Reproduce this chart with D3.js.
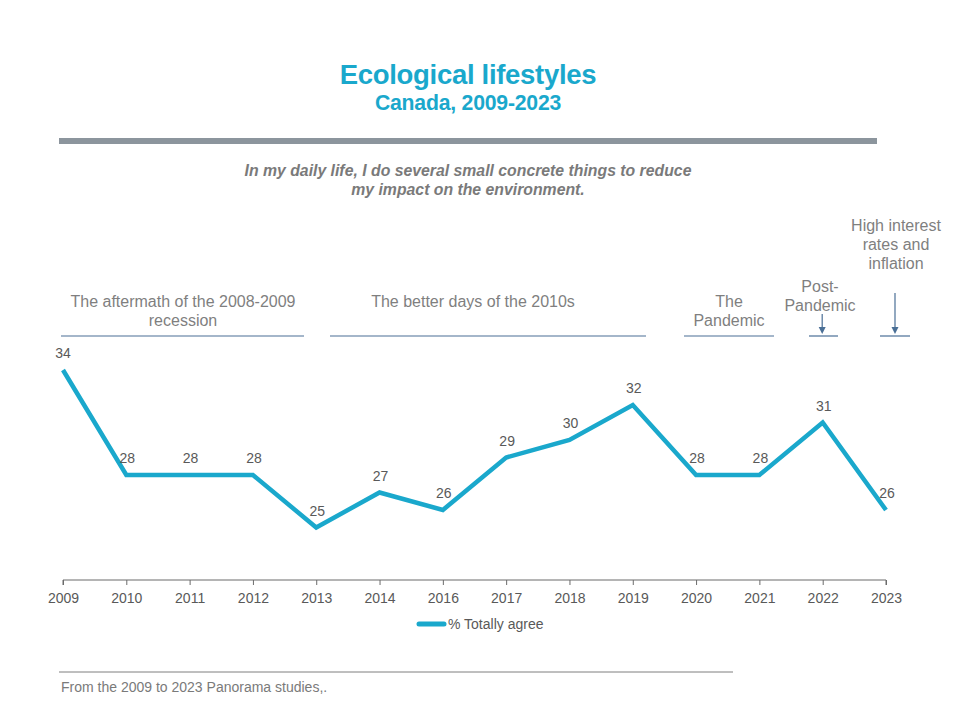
<!DOCTYPE html>
<html><head><meta charset="utf-8">
<script src="https://cdn.jsdelivr.net/npm/d3@7"></script>
<style>body{margin:0;background:#fff}svg{display:block}</style>
</head><body>
<svg id="c" width="960" height="720"></svg>
<script>
const years = ["2009","2010","2011","2012","2013","2014","2016","2017","2018","2019","2020","2021","2022","2023"];
const totallyAgree = [34,28,28,28,25,27,26,29,30,32,28,28,31,26];
const seriesName = "% Totally agree";
const periods = [
  {lines:["The aftermath of the 2008-2009","recession"], arrow:false},
  {lines:["The better days of the 2010s"], arrow:false},
  {lines:["The","Pandemic"], arrow:false},
  {lines:["Post-","Pandemic"], arrow:true, year:"2022"},
  {lines:["High interest","rates and","inflation"], arrow:true, year:"2023"}
];

const svg = d3.select("#c");
const font = "'Liberation Sans',Arial,sans-serif";
const blue = "#1AA8CC";
const gray = "#7F7F7F";

// titles
svg.append("text").attr("x",468).attr("y",84).attr("text-anchor","middle")
  .attr("font-family",font).attr("font-weight","bold").attr("font-size",27.5)
  .attr("fill",blue).attr("letter-spacing",-0.3).text("Ecological lifestyles");
svg.append("text").attr("x",468).attr("y",110).attr("text-anchor","middle")
  .attr("font-family",font).attr("font-weight","bold").attr("font-size",21.2)
  .attr("fill",blue).attr("letter-spacing",-0.2).text("Canada, 2009-2023");
svg.append("rect").attr("x",59).attr("y",138).attr("width",818).attr("height",6).attr("fill","#8C959D");

const q = ["In my daily life, I do several small concrete things to reduce","my impact on the environment."];
q.forEach((t,i)=>svg.append("text").attr("x",468).attr("y",175.5+i*19).attr("text-anchor","middle")
  .attr("font-family",font).attr("font-style","italic").attr("font-weight","bold").attr("font-size",15.8)
  .attr("fill","#7a7a7a").text(t));

// scales
const x = d3.scalePoint().domain(years).range([63,886]);
const y = d3.scaleLinear().domain([22,40]).range([580,265]);

// axis
const ax = svg.append("g").attr("transform","translate(0,580)")
  .call(d3.axisBottom(x).tickSize(5).tickPadding(8));
ax.select(".domain").attr("stroke","#6b6b6b").attr("d","M63,5V0H886V5");
ax.selectAll(".tick line").attr("stroke","#6b6b6b");
ax.selectAll(".tick text").attr("font-family",font).attr("font-size",14).attr("fill","#595959");

// line
const line = d3.line().x((d,i)=>x(years[i])).y(d=>y(d));
svg.append("path").datum(totallyAgree).attr("d",line).attr("fill","none")
  .attr("stroke",blue).attr("stroke-width",4.5).attr("stroke-linejoin","miter");

// data labels
svg.selectAll(".dl").data(totallyAgree).enter().append("text")
  .attr("x",(d,i)=>x(years[i])+(i===0?0:1)).attr("y",d=>y(d)-12)
  .attr("text-anchor","middle").attr("font-family",font).attr("font-size",14).attr("fill","#595959")
  .text(d=>d);

// period annotations
const lineY = 336;
const bounds = [[61,304],[330,646],[684,774],[809,838],[880,910]];
const centers = [183,473,729,820,896];
const lastYs = [326,307,326,311,269];
periods.forEach((p,k)=>{
  const [x0,x1] = bounds[k];
  svg.append("line").attr("x1",x0).attr("x2",x1).attr("y1",lineY).attr("y2",lineY)
    .attr("stroke","#4A6F96").attr("stroke-width",1.2);
  const n = p.lines.length;
  p.lines.forEach((t,i)=>svg.append("text").attr("x",centers[k]).attr("y",lastYs[k]-(n-1-i)*19)
    .attr("text-anchor","middle").attr("font-family",font).attr("font-size",16).attr("fill",gray).text(t));
  if(p.arrow){
    const axp = x(p.year) + (k===3?-0.5:9);
    const top = k===3?314:293;
    svg.append("line").attr("x1",axp).attr("x2",axp).attr("y1",top).attr("y2",328)
      .attr("stroke","#4A6F96").attr("stroke-width",1.2);
    svg.append("path").attr("d",`M${axp-3.5},327L${axp+3.5},327L${axp},334Z`).attr("fill","#4A6F96");
  }
});

// legend
svg.append("line").attr("x1",419).attr("x2",444).attr("y1",624).attr("y2",624)
  .attr("stroke",blue).attr("stroke-width",5).attr("stroke-linecap","round");
svg.append("text").attr("x",448).attr("y",629).attr("font-family",font).attr("font-size",14)
  .attr("fill","#595959").text(seriesName);

// footer
svg.append("line").attr("x1",59).attr("x2",733).attr("y1",672).attr("y2",672).attr("stroke","#7f7f7f").attr("stroke-width",1);
svg.append("text").attr("x",61).attr("y",692).attr("font-family",font).attr("font-size",14)
  .attr("fill","#7a7a7a").text("From the 2009 to 2023 Panorama studies,.");
</script>
</body></html>
